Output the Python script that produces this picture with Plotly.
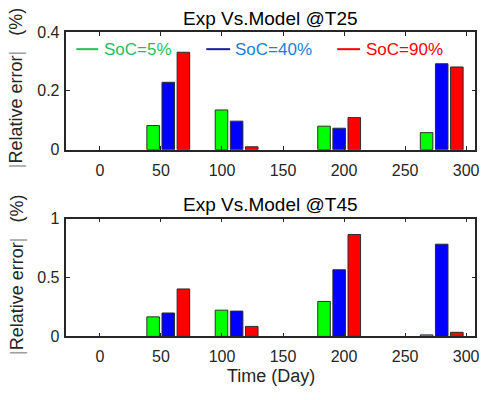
import plotly.graph_objects as go

days = [56, 112, 196, 280]
series_names = ["SoC=5%", "SoC=40%", "SoC=90%"]
t25_soc5 = [0.082, 0.135, 0.080, 0.058]
t25_soc40 = [0.229, 0.097, 0.073, 0.292]
t25_soc90 = [0.331, 0.010, 0.109, 0.281]
t45_soc5 = [0.166, 0.223, 0.297, 0.013]
t45_soc40 = [0.199, 0.215, 0.566, 0.783]
t45_soc90 = [0.403, 0.085, 0.865, 0.035]
x_ticks = [0, 50, 100, 150, 200, 250, 300]

bar_colors = ["#00FF00", "#0000FF", "#FF0000"]
legend_line_colors = ["#1DBF5A", "#1A1AA6", "#FF0000"]
legend_text_colors = ["#1DBF5A", "#1A7FD8", "#FF0000"]
edge = "rgb(45,45,45)"
axis_col = "#262626"
FONT = "Liberation Sans, Arial, sans-serif"

fig = go.Figure()
for vals, xa, ya in [((t25_soc5, t25_soc40, t25_soc90), "x", "y"),
                     ((t45_soc5, t45_soc40, t45_soc90), "x2", "y2")]:
    for i, v in enumerate(vals):
        fig.add_trace(go.Bar(x=days, y=v, name=series_names[i], xaxis=xa, yaxis=ya,
                             marker=dict(color=bar_colors[i], line=dict(color=edge, width=1)),
                             offsetgroup=str(i), showlegend=False))

W, H = 492, 400
L, R = 67, 479.3
top1, bot1 = 25, 148
top2, bot2 = 220, 343

common_x = dict(range=[-27.4, 307.6], tickvals=x_ticks, ticks="inside", ticklen=4,
                tickcolor=axis_col, tickwidth=1.2, showline=True, linecolor=axis_col,
                linewidth=1.5, mirror="ticks", showgrid=False, zeroline=False,
                ticklabelstandoff=5,
                tickfont=dict(size=16, color=axis_col, family=FONT),
                domain=[L / W, R / W])
common_y = dict(ticks="inside", ticklen=4, tickcolor=axis_col, tickwidth=1.2,
                showline=True, linecolor=axis_col, linewidth=1.5, mirror="ticks",
                showgrid=False, zeroline=False, ticklabelstandoff=2,
                tickfont=dict(size=16, color=axis_col, family=FONT))

fig.update_layout(
    width=W, height=H, margin=dict(l=0, r=0, t=0, b=0),
    paper_bgcolor="white", plot_bgcolor="white",
    barmode="group", bargap=0.336, bargroupgap=0.17,
    font=dict(family=FONT, color=axis_col),
    xaxis=dict(common_x, anchor="y"),
    yaxis=dict(common_y, anchor="x", range=[0, 0.4], tickvals=[0, 0.2, 0.4],
               ticktext=["0", "0.2", "0.4"],
               domain=[1 - bot1 / H, 1 - top1 / H]),
    xaxis2=dict(common_x, anchor="y2"),
    yaxis2=dict(common_y, anchor="x2", range=[0, 1], tickvals=[0, 0.5, 1],
                ticktext=["0", "0.5", "1"],
                domain=[1 - bot2 / H, 1 - top2 / H]),
)

def note(text, px, py, size, color, xanchor="center", angle=0):
    return dict(text=text, x=px / W, y=1 - py / H, xref="paper", yref="paper",
                xanchor=xanchor, yanchor="middle", showarrow=False, textangle=angle,
                font=dict(size=size, color=color, family=FONT))

ann = []
cxp = (L + R) / 2
ann.append(note("Exp Vs.Model @T25", cxp, 11, 19, "black"))
ann.append(note("Exp Vs.Model @T45", cxp, 205, 19, "black"))
ann.append(note("Time (Day)", cxp, 384, 18, axis_col))
bar = '<span style="color:#A0A0A0">|</span>'
ylab = bar + "Relative error" + bar + "&nbsp;&nbsp;&nbsp;(%)"
for yc in [84, 279]:
    ann.append(note(ylab, 17, yc, 18, axis_col, angle=-90))

# legend (top panel)
leg_x = [(77, 99, 103), (208, 232, 235), (340, 363, 367)]
leg_y = 43
shapes = []
for i, (x0, x1, tx) in enumerate(leg_x):
    shapes.append(dict(type="line", xref="paper", yref="paper", x0=x0 / W, x1=x1 / W,
                       y0=1 - leg_y / H, y1=1 - leg_y / H,
                       line=dict(color=legend_line_colors[i], width=2)))
    ann.append(note(series_names[i], tx, leg_y, 17, legend_text_colors[i], xanchor="left"))

fig.update_layout(annotations=ann, shapes=shapes)
fig.write_html("out.html")
